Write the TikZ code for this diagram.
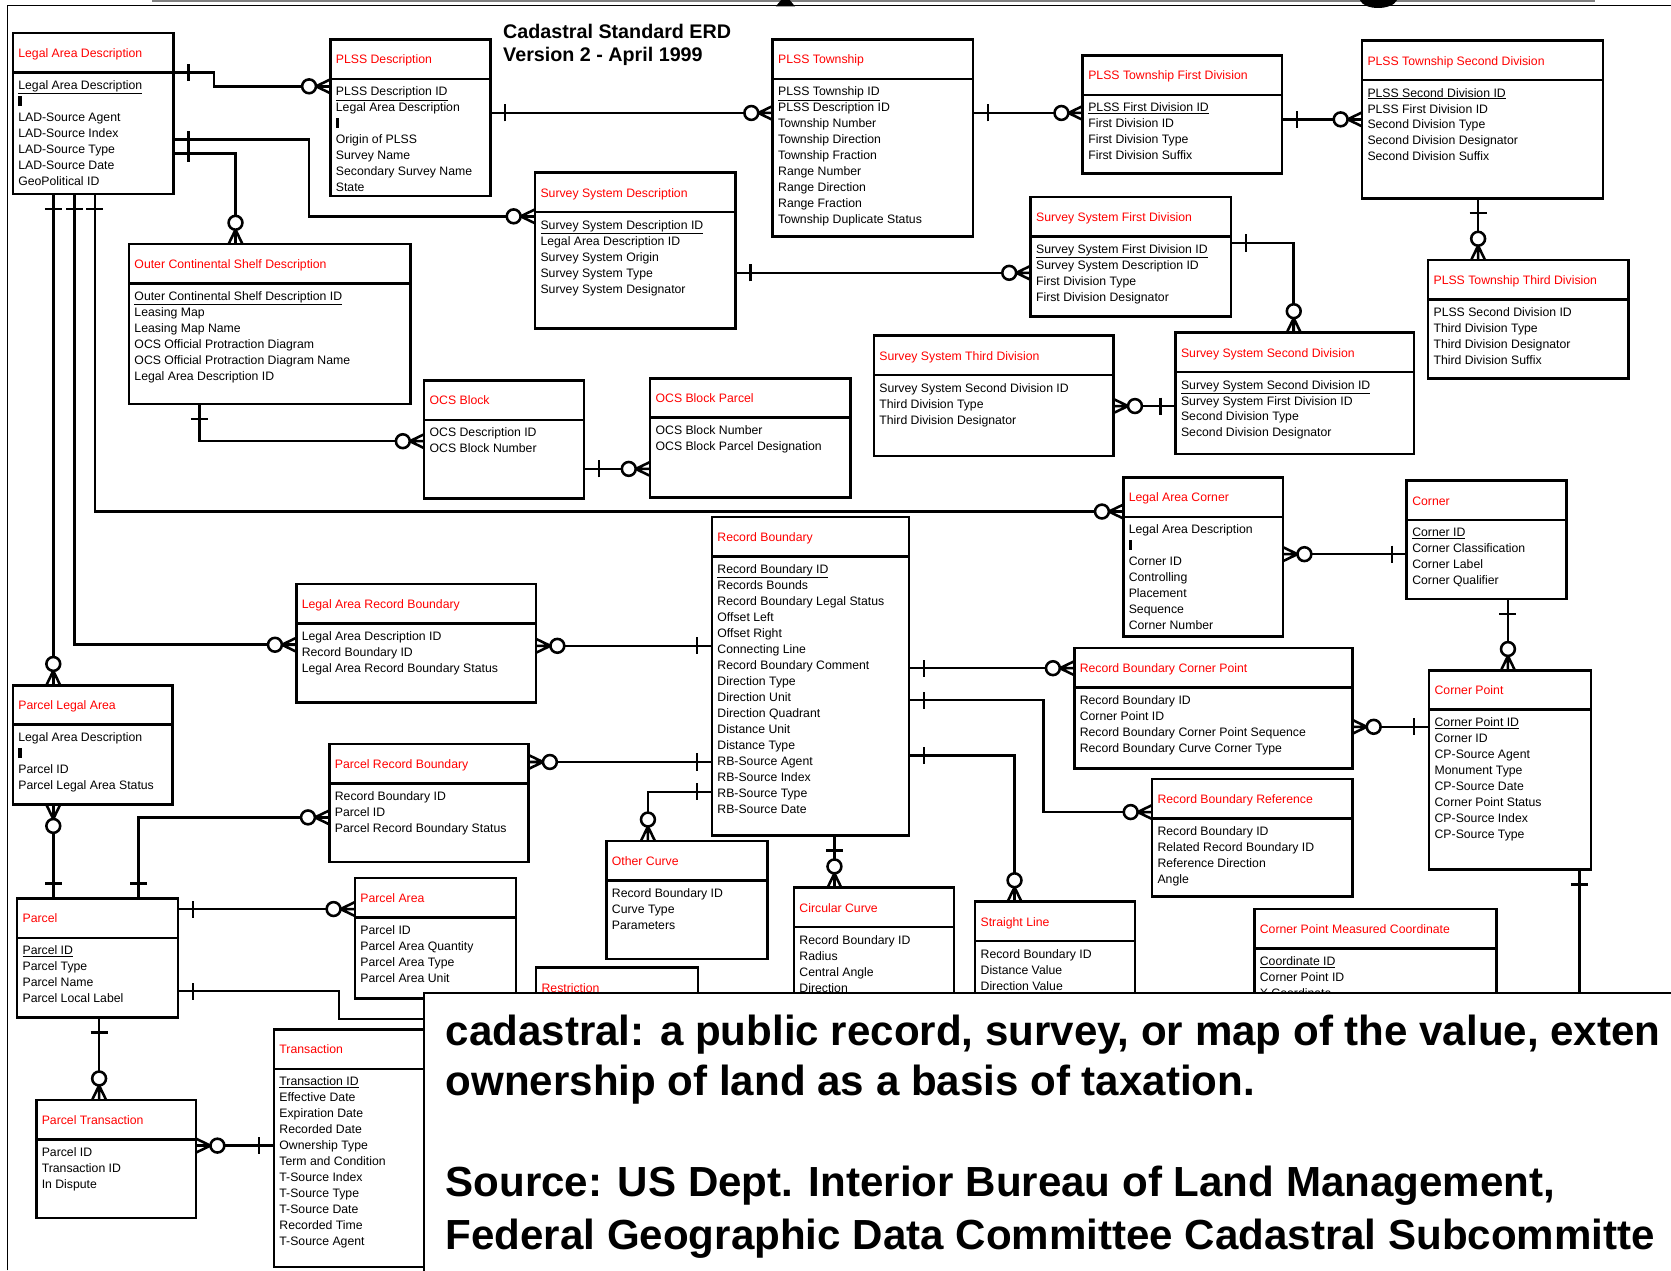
\documentclass[tikz,border=0pt]{standalone}
\usepackage{fontspec}
\setmainfont{Liberation Sans}
\usetikzlibrary{fit}

\newcommand\keybar{\rule{3pt}{9pt}}

\tikzset{
  entity/.style={draw, rectangle, inner sep=0pt, outer sep=0pt,
    path picture={\draw ([yshift=-37pt]path picture bounding box.north west) -- ++(600pt,0pt);}},
  etitle/.style={anchor=base west, inner sep=0pt, text=red, font=\fontsize{11.5}{15}\selectfont},
  eattr/.style={anchor=north west, inner sep=0pt, align=left, font=\fontsize{11.5}{15}\selectfont},
  headtext/.style={anchor=base west, inner sep=0pt, font=\fontsize{18.5}{22}\selectfont\bfseries},
  notetext/.style={anchor=base west, inner sep=0pt, font=\fontsize{39.5}{48}\selectfont\bfseries},
  onebar/.pic={\draw (-14,-8) -- (-14,8);},
  zmany/.pic={\draw[fill=white] (-20,0) circle[radius=6.5pt];
    \draw (-13.5,0) -- (0,-6.5) (-13.5,0) -- (0,0) (-13.5,0) -- (0,6.5);}
}

\begin{document}
\begin{tikzpicture}[x=1pt, y=-1pt, line width=2.4pt]
        \useasboundingbox (0,0) rectangle (1568,1192);

        % frame and cut-off heading
        \draw[gray, line width=1.5pt] (143,1) -- (1497,1);
        \draw[line width=1.5pt] (7,1192) -- (7,5) -- (1568,5);
        \fill (733,0) -- (741,0) -- (746,6) -- (728,6) -- cycle;
        \fill (1276,0) .. controls (1280,10) and (1306,10) .. (1311,0) -- cycle;

        \node[headtext] (title1) at (471,36) {Cadastral Standard ERD};
        \node[headtext] (title2) at (471,58) {Version 2 - April 1999};

        % entities
        \node[entity, fit={(12,31) (163,182)}] (lad) {};
        \node[etitle] (lad-t) at ([shift={(4pt,-23pt)}]lad.north west) {Legal Area Description};
        \node[eattr] (lad-a) at ([shift={(4pt,-43.5pt)}]lad.north west) {\underline{Legal Area Description}\\\keybar\\LAD-Source Agent\\LAD-Source Index\\LAD-Source Type\\LAD-Source Date\\GeoPolitical ID};

        \node[entity, fit={(310,37) (460,184)}] (plssd) {};
        \node[etitle] (plssd-t) at ([shift={(4pt,-23pt)}]plssd.north west) {PLSS Description};
        \node[eattr] (plssd-a) at ([shift={(4pt,-43.5pt)}]plssd.north west) {\underline{PLSS Description ID}\\Legal Area Description\\\keybar\\Origin of PLSS\\Survey Name\\Secondary Survey Name\\State};

        \node[entity, fit={(725,37) (913,222)}] (plsst) {};
        \node[etitle] (plsst-t) at ([shift={(4pt,-23pt)}]plsst.north west) {PLSS Township};
        \node[eattr] (plsst-a) at ([shift={(4pt,-43.5pt)}]plsst.north west) {\underline{PLSS Township ID}\\PLSS Description ID\\Township Number\\Township Direction\\Township Fraction\\Range Number\\Range Direction\\Range Fraction\\Township Duplicate Status};

        \node[entity, fit={(1016,52) (1203,163)}] (plssfd) {};
        \node[etitle] (plssfd-t) at ([shift={(4pt,-23pt)}]plssfd.north west) {PLSS Township First Division};
        \node[eattr] (plssfd-a) at ([shift={(4pt,-43.5pt)}]plssfd.north west) {\underline{PLSS First Division ID}\\First Division ID\\First Division Type\\First Division Suffix};

        \node[entity, fit={(1278,38) (1504,186)}] (plsssd) {};
        \node[etitle] (plsssd-t) at ([shift={(4pt,-23pt)}]plsssd.north west) {PLSS Township Second Division};
        \node[eattr] (plsssd-a) at ([shift={(4pt,-43.5pt)}]plsssd.north west) {\underline{PLSS Second Division ID}\\PLSS First Division ID\\Second Division Type\\Second Division Designator\\Second Division Suffix};

        \node[entity, fit={(1340,244) (1528,355)}] (plsstd) {};
        \node[etitle] (plsstd-t) at ([shift={(4pt,-23pt)}]plsstd.north west) {PLSS Township Third Division};
        \node[eattr] (plsstd-a) at ([shift={(4pt,-43.5pt)}]plsstd.north west) {PLSS Second Division ID\\Third Division Type\\Third Division Designator\\Third Division Suffix};

        \node[entity, fit={(502,162) (690,308)}] (ssd) {};
        \node[etitle] (ssd-t) at ([shift={(4pt,-23pt)}]ssd.north west) {Survey System Description};
        \node[eattr] (ssd-a) at ([shift={(4pt,-43.5pt)}]ssd.north west) {\underline{Survey System Description ID}\\Legal Area Description ID\\Survey System Origin\\Survey System Type\\Survey System Designator};

        \node[entity, fit={(967,185) (1155,297)}] (ssfd) {};
        \node[etitle] (ssfd-t) at ([shift={(4pt,-23pt)}]ssfd.north west) {Survey System First Division};
        \node[eattr] (ssfd-a) at ([shift={(4pt,-43.5pt)}]ssfd.north west) {\underline{Survey System First Division ID}\\Survey System Description ID\\First Division Type\\First Division Designator};

        \node[entity, fit={(121,229) (385,379)}] (ocsd) {};
        \node[etitle] (ocsd-t) at ([shift={(4pt,-23pt)}]ocsd.north west) {Outer Continental Shelf Description};
        \node[eattr] (ocsd-a) at ([shift={(4pt,-43.5pt)}]ocsd.north west) {\underline{Outer Continental Shelf Description ID}\\Leasing Map\\Leasing Map Name\\OCS Official Protraction Diagram\\OCS Official Protraction Diagram Name\\Legal Area Description ID};

        \node[entity, fit={(820,315) (1045,428)}] (sstd) {};
        \node[etitle] (sstd-t) at ([shift={(4pt,-23pt)}]sstd.north west) {Survey System Third Division};
        \node[eattr] (sstd-a) at ([shift={(4pt,-43.5pt)}]sstd.north west) {Survey System Second Division ID\\Third Division Type\\Third Division Designator};

        \node[entity, fit={(1103,312) (1327,426)}] (sssd) {};
        \node[etitle] (sssd-t) at ([shift={(4pt,-23pt)}]sssd.north west) {Survey System Second Division};
        \node[eattr] (sssd-a) at ([shift={(4pt,-43.5pt)}]sssd.north west) {\underline{Survey System Second Division ID}\\Survey System First Division ID\\Second Division Type\\Second Division Designator};

        \node[entity, fit={(398,357) (548,468)}] (ocsb) {};
        \node[etitle] (ocsb-t) at ([shift={(4pt,-23pt)}]ocsb.north west) {OCS Block};
        \node[eattr] (ocsb-a) at ([shift={(4pt,-43.5pt)}]ocsb.north west) {OCS Description ID\\OCS Block Number};

        \node[entity, fit={(610,355) (798,467)}] (ocsbp) {};
        \node[etitle] (ocsbp-t) at ([shift={(4pt,-23pt)}]ocsbp.north west) {OCS Block Parcel};
        \node[eattr] (ocsbp-a) at ([shift={(4pt,-43.5pt)}]ocsbp.north west) {OCS Block Number\\OCS Block Parcel Designation};

        \node[entity, fit={(1054,448) (1204,597)}] (lac) {};
        \node[etitle] (lac-t) at ([shift={(4pt,-23pt)}]lac.north west) {Legal Area Corner};
        \node[eattr] (lac-a) at ([shift={(4pt,-43.5pt)}]lac.north west) {Legal Area Description\\\keybar\\Corner ID\\Controlling\\Placement\\Sequence\\Corner Number};

        \node[entity, fit={(1320,451) (1470,562)}] (corner) {};
        \node[etitle] (corner-t) at ([shift={(4pt,-23pt)}]corner.north west) {Corner};
        \node[eattr] (corner-a) at ([shift={(4pt,-43.5pt)}]corner.north west) {\underline{Corner ID}\\Corner Classification\\Corner Label\\Corner Qualifier};

        \node[entity, fit={(668,485) (853,784)}] (rb) {};
        \node[etitle] (rb-t) at ([shift={(4pt,-23pt)}]rb.north west) {Record Boundary};
        \node[eattr] (rb-a) at ([shift={(4pt,-43.5pt)}]rb.north west) {\underline{Record Boundary ID}\\Records Bounds\\Record Boundary Legal Status\\Offset Left\\Offset Right\\Connecting Line\\Record Boundary Comment\\Direction Type\\Direction Unit\\Direction Quadrant\\Distance Unit\\Distance Type\\RB-Source Agent\\RB-Source Index\\RB-Source Type\\RB-Source Date};

        \node[entity, fit={(278,548) (503,659)}] (larb) {};
        \node[etitle] (larb-t) at ([shift={(4pt,-23pt)}]larb.north west) {Legal Area Record Boundary};
        \node[eattr] (larb-a) at ([shift={(4pt,-43.5pt)}]larb.north west) {Legal Area Description ID\\Record Boundary ID\\Legal Area Record Boundary Status};

        \node[entity, fit={(1008,608) (1269,721)}] (rbcp) {};
        \node[etitle] (rbcp-t) at ([shift={(4pt,-23pt)}]rbcp.north west) {Record Boundary Corner Point};
        \node[eattr] (rbcp-a) at ([shift={(4pt,-43.5pt)}]rbcp.north west) {Record Boundary ID\\Corner Point ID\\Record Boundary Corner Point Sequence\\Record Boundary Curve Corner Type};

        \node[entity, fit={(1341,629) (1493,816)}] (cp) {};
        \node[etitle] (cp-t) at ([shift={(4pt,-23pt)}]cp.north west) {Corner Point};
        \node[eattr] (cp-a) at ([shift={(4pt,-43.5pt)}]cp.north west) {\underline{Corner Point ID}\\Corner ID\\CP-Source Agent\\Monument Type\\CP-Source Date\\Corner Point Status\\CP-Source Index\\CP-Source Type};

        \node[entity, fit={(12,643) (162,755)}] (pla) {};
        \node[etitle] (pla-t) at ([shift={(4pt,-23pt)}]pla.north west) {Parcel Legal Area};
        \node[eattr] (pla-a) at ([shift={(4pt,-43.5pt)}]pla.north west) {Legal Area Description\\\keybar\\Parcel ID\\Parcel Legal Area Status};

        \node[entity, fit={(309,698) (496,809)}] (prb) {};
        \node[etitle] (prb-t) at ([shift={(4pt,-23pt)}]prb.north west) {Parcel Record Boundary};
        \node[eattr] (prb-a) at ([shift={(4pt,-43.5pt)}]prb.north west) {Record Boundary ID\\Parcel ID\\Parcel Record Boundary Status};

        \node[entity, fit={(1081,731) (1269,841)}] (rbr) {};
        \node[etitle] (rbr-t) at ([shift={(4pt,-23pt)}]rbr.north west) {Record Boundary Reference};
        \node[eattr] (rbr-a) at ([shift={(4pt,-43.5pt)}]rbr.north west) {Record Boundary ID\\Related Record Boundary ID\\Reference Direction\\Angle};

        \node[entity, fit={(569,789) (720,900)}] (oc) {};
        \node[etitle] (oc-t) at ([shift={(4pt,-23pt)}]oc.north west) {Other Curve};
        \node[eattr] (oc-a) at ([shift={(4pt,-43.5pt)}]oc.north west) {Record Boundary ID\\Curve Type\\Parameters};

        \node[entity, fit={(745,833) (895,1000)}] (cc) {};
        \node[etitle] (cc-t) at ([shift={(4pt,-23pt)}]cc.north west) {Circular Curve};
        \node[eattr] (cc-a) at ([shift={(4pt,-43.5pt)}]cc.north west) {Record Boundary ID\\Radius\\Central Angle\\Direction};

        \node[entity, fit={(915,846) (1065,1000)}] (sl) {};
        \node[etitle] (sl-t) at ([shift={(4pt,-23pt)}]sl.north west) {Straight Line};
        \node[eattr] (sl-a) at ([shift={(4pt,-43.5pt)}]sl.north west) {Record Boundary ID\\Distance Value\\Direction Value};

        \node[entity, fit={(1177,853) (1404,1000)}] (cpmc) {};
        \node[etitle] (cpmc-t) at ([shift={(4pt,-23pt)}]cpmc.north west) {Corner Point Measured Coordinate};
        \node[eattr] (cpmc-a) at ([shift={(4pt,-43.5pt)}]cpmc.north west) {\underline{Coordinate ID}\\Corner Point ID\\X Coordinate};

        \node[entity, fit={(16,843) (167,955)}] (parcel) {};
        \node[etitle] (parcel-t) at ([shift={(4pt,-23pt)}]parcel.north west) {Parcel};
        \node[eattr] (parcel-a) at ([shift={(4pt,-43.5pt)}]parcel.north west) {\underline{Parcel ID}\\Parcel Type\\Parcel Name\\Parcel Local Label};

        \node[entity, fit={(333,824) (484,937)}] (pa) {};
        \node[etitle] (pa-t) at ([shift={(4pt,-23pt)}]pa.north west) {Parcel Area};
        \node[eattr] (pa-a) at ([shift={(4pt,-43.5pt)}]pa.north west) {Parcel ID\\Parcel Area Quantity\\Parcel Area Type\\Parcel Area Unit};

        \node[entity, fit={(503,908) (655,1000)}] (restr) {};
        \node[etitle] (restr-t) at ([shift={(4pt,-23pt)}]restr.north west) {Restriction};

        \node[entity, fit={(34,1032) (184,1143)}] (pt) {};
        \node[etitle] (pt-t) at ([shift={(4pt,-23pt)}]pt.north west) {Parcel Transaction};
        \node[eattr] (pt-a) at ([shift={(4pt,-43.5pt)}]pt.north west) {Parcel ID\\Transaction ID\\In Dispute};

        \node[entity, fit={(257,966) (400,1189)}] (trans) {};
        \node[etitle] (trans-t) at ([shift={(4pt,-23pt)}]trans.north west) {Transaction};
        \node[eattr] (trans-a) at ([shift={(4pt,-43.5pt)}]trans.north west) {\underline{Transaction ID}\\Effective Date\\Expiration Date\\Recorded Date\\Ownership Type\\Term and Condition\\T-Source Index\\T-Source Type\\T-Source Date\\Recorded Time\\T-Source Agent};

        % relationships
        \draw (lad.east |- 0,68) -- (201,68) -- (201,81) -- (plssd.west |- 0,81);
        \pic[rotate=180] at (lad.east |- 0,68) {onebar};
        \pic at (plssd.west |- 0,81) {zmany};

        \draw (plssd.east |- 0,106) -- (plsst.west |- 0,106);
        \pic[rotate=180] at (plssd.east |- 0,106) {onebar};
        \pic at (plsst.west |- 0,106) {zmany};

        \draw (plsst.east |- 0,106) -- (plssfd.west |- 0,106);
        \pic[rotate=180] at (plsst.east |- 0,106) {onebar};
        \pic at (plssfd.west |- 0,106) {zmany};

        \draw (plssfd.east |- 0,112) -- (plsssd.west |- 0,112);
        \pic[rotate=180] at (plssfd.east |- 0,112) {onebar};
        \pic at (plsssd.west |- 0,112) {zmany};

        \draw (plsssd.south -| 1387,0) -- (plsstd.north -| 1387,0);
        \pic[rotate=90] at (plsssd.south -| 1387,0) {onebar};
        \pic[rotate=-90] at (plsstd.north -| 1387,0) {zmany};

        \draw (lad.east |- 0,131) -- (290,131) -- (290,203) -- (ssd.west |- 0,203);
        \pic[rotate=180] at (lad.east |- 0,131) {onebar};
        \pic at (ssd.west |- 0,203) {zmany};

        \draw (lad.east |- 0,144) -- (221,144) -- (ocsd.north -| 221,0);
        \pic[rotate=180] at (lad.east |- 0,144) {onebar};
        \pic[rotate=-90] at (ocsd.north -| 221,0) {zmany};

        \draw (ssd.east |- 0,256) -- (ssfd.west |- 0,256);
        \pic[rotate=180] at (ssd.east |- 0,256) {onebar};
        \pic at (ssfd.west |- 0,256) {zmany};

        \draw (ssfd.east |- 0,228) -- (1214,228) -- (sssd.north -| 1214,0);
        \pic[rotate=180] at (ssfd.east |- 0,228) {onebar};
        \pic[rotate=-90] at (sssd.north -| 1214,0) {zmany};

        \draw (sssd.west |- 0,381) -- (sstd.east |- 0,381);
        \pic at (sssd.west |- 0,381) {onebar};
        \pic[rotate=180] at (sstd.east |- 0,381) {zmany};

        \draw (ocsd.south -| 187,0) -- (187,414) -- (ocsb.west |- 0,414);
        \pic[rotate=90] at (ocsd.south -| 187,0) {onebar};
        \pic at (ocsb.west |- 0,414) {zmany};

        \draw (ocsb.east |- 0,440) -- (ocsbp.west |- 0,440);
        \pic[rotate=180] at (ocsb.east |- 0,440) {onebar};
        \pic at (ocsbp.west |- 0,440) {zmany};

        \draw (lad.south -| 89,0) -- (89,480) -- (lac.west |- 0,480);
        \pic[rotate=90] at (lad.south -| 89,0) {onebar};
        \pic at (lac.west |- 0,480) {zmany};

        \draw (lad.south -| 70,0) -- (70,605) -- (larb.west |- 0,605);
        \pic[rotate=90] at (lad.south -| 70,0) {onebar};
        \pic at (larb.west |- 0,605) {zmany};

        \draw (lad.south -| 50,0) -- (pla.north -| 50,0);
        \pic[rotate=90] at (lad.south -| 50,0) {onebar};
        \pic[rotate=-90] at (pla.north -| 50,0) {zmany};

        \draw (rb.west |- 0,606) -- (larb.east |- 0,606);
        \pic at (rb.west |- 0,606) {onebar};
        \pic[rotate=180] at (larb.east |- 0,606) {zmany};

        \draw (rb.west |- 0,715) -- (prb.east |- 0,715);
        \pic at (rb.west |- 0,715) {onebar};
        \pic[rotate=180] at (prb.east |- 0,715) {zmany};

        \draw (rb.west |- 0,743) -- (608,743) -- (oc.north -| 608,0);
        \pic at (rb.west |- 0,743) {onebar};
        \pic[rotate=-90] at (oc.north -| 608,0) {zmany};

        \draw (rb.east |- 0,627) -- (rbcp.west |- 0,627);
        \pic[rotate=180] at (rb.east |- 0,627) {onebar};
        \pic at (rbcp.west |- 0,627) {zmany};

        \draw (rb.east |- 0,657) -- (979,657) -- (979,762) -- (rbr.west |- 0,762);
        \pic[rotate=180] at (rb.east |- 0,657) {onebar};
        \pic at (rbr.west |- 0,762) {zmany};

        \draw (rb.east |- 0,709) -- (952,709) -- (sl.north -| 952,0);
        \pic[rotate=180] at (rb.east |- 0,709) {onebar};
        \pic[rotate=-90] at (sl.north -| 952,0) {zmany};

        \draw (rb.south -| 783,0) -- (cc.north -| 783,0);
        \pic[rotate=90] at (rb.south -| 783,0) {onebar};
        \pic[rotate=-90] at (cc.north -| 783,0) {zmany};

        \draw (corner.west |- 0,520) -- (lac.east |- 0,520);
        \pic at (corner.west |- 0,520) {onebar};
        \pic[rotate=180] at (lac.east |- 0,520) {zmany};

        \draw (corner.south -| 1415,0) -- (cp.north -| 1415,0);
        \pic[rotate=90] at (corner.south -| 1415,0) {onebar};
        \pic[rotate=-90] at (cp.north -| 1415,0) {zmany};

        \draw (cp.west |- 0,682) -- (rbcp.east |- 0,682);
        \pic at (cp.west |- 0,682) {onebar};
        \pic[rotate=180] at (rbcp.east |- 0,682) {zmany};

        \draw (cp.south -| 1482,0) -- (1482,975) -- (cpmc.east |- 0,975);
        \pic[rotate=90] at (cp.south -| 1482,0) {onebar};
        \pic[rotate=180] at (cpmc.east |- 0,975) {zmany};

        \draw (parcel.north -| 50,0) -- (pla.south -| 50,0);
        \pic[rotate=-90] at (parcel.north -| 50,0) {onebar};
        \pic[rotate=90] at (pla.south -| 50,0) {zmany};

        \draw (parcel.north -| 130,0) -- (130,767) -- (prb.west |- 0,767);
        \pic[rotate=-90] at (parcel.north -| 130,0) {onebar};
        \pic at (prb.west |- 0,767) {zmany};

        \draw (parcel.east |- 0,853) -- (pa.west |- 0,853);
        \pic[rotate=180] at (parcel.east |- 0,853) {onebar};
        \pic at (pa.west |- 0,853) {zmany};

        \draw (parcel.east |- 0,930) -- (318,930) -- (318,956) -- (restr.west |- 0,956);
        \pic[rotate=180] at (parcel.east |- 0,930) {onebar};
        \pic at (restr.west |- 0,956) {zmany};

        \draw (parcel.south -| 93,0) -- (pt.north -| 93,0);
        \pic[rotate=90] at (parcel.south -| 93,0) {onebar};
        \pic[rotate=-90] at (pt.north -| 93,0) {zmany};

        \draw (trans.west |- 0,1075) -- (pt.east |- 0,1075);
        \pic at (trans.west |- 0,1075) {onebar};
        \pic[rotate=180] at (pt.east |- 0,1075) {zmany};

        % definition box on top
        \node[draw, fill=white, inner sep=0pt, line width=2pt, fit={(398,932) (1600,1210)}] (note) {};
        \node[notetext] (def1) at (417,981) {cadastral: a public record, survey, or map of the value, exten};
        \node[notetext] (def2) at (417,1028) {ownership of land as a basis of taxation.};
        \node[notetext] (src1) at (417,1123) {Source: US Dept. Interior Bureau of Land Management,};
        \node[notetext] (src2) at (417,1172) {Federal Geographic Data Committee Cadastral Subcommitte};
\end{tikzpicture}
\end{document}
